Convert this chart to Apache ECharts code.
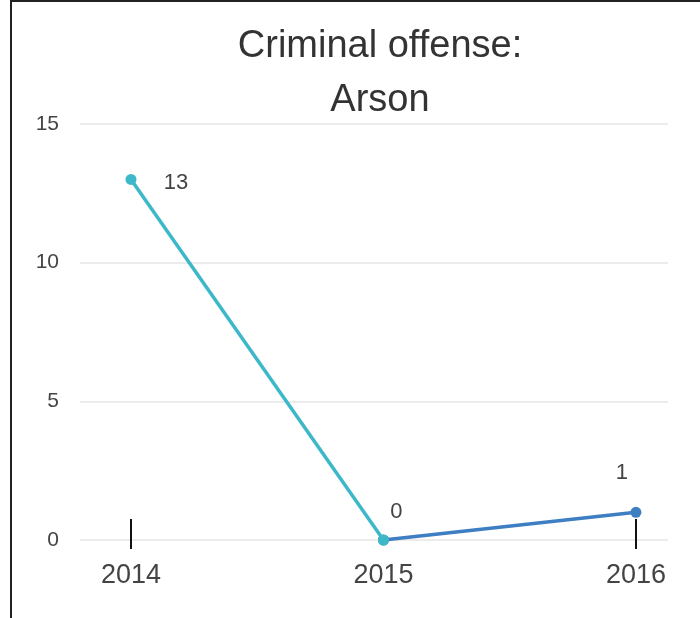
<!DOCTYPE html>
<html>
<head>
<meta charset="utf-8">
<script src="https://cdn.jsdelivr.net/npm/echarts@6/dist/echarts.min.js"></script>
<style>
  html, body { margin: 0; padding: 0; background: #fff; }
  #chart { width: 700px; height: 618px; }
</style>
</head>
<body>
<div id="chart"></div>
<script>
// ---- data ----
const titleLines = ['Criminal offense:', 'Arson'];
const years = [2014, 2015, 2016];
const offenses = [13, 0, 1];
const yTicks = [0, 5, 10, 15];
const tickYears = [2014, 2016];

// ---- style (kept apart from data) ----
const cyan = '#3cb8c9';
const blue = '#3e7ec3';
const labelOffsets = [[45, 3], [13, -28], [-14, -39]];
const font = 'Liberation Sans, Arial, sans-serif';

function point(i, withLabel) {
  return {
    value: [years[i], offenses[i]],
    label: { show: withLabel, offset: labelOffsets[i] }
  };
}
// first segment (2014-2015) cyan, second (2015-2016) blue
const segA = [point(0, true), point(1, true)];
const segB = [point(1, false), point(2, true)];

const lineSeries = (data, color, z) => ({
  type: 'line',
  xAxisIndex: 0,
  data: data,
  symbol: 'circle',
  symbolSize: 11,
  z: z,
  itemStyle: { color: color },
  lineStyle: { width: 3.5, color: color },
  clip: false,
  label: {
    show: true,
    position: 'inside',
    formatter: p => String(p.value[1]),
    fontFamily: font,
    fontSize: 22,
    color: '#444'
  }
});

const chart = echarts.init(document.getElementById('chart'), null, { renderer: 'canvas' });
chart.setOption({
  backgroundColor: '#ffffff',
  animation: false,
  title: {
    text: titleLines.join('\n'),
    left: 380,
    top: 20,
    textAlign: 'center',
    padding: 0,
    textStyle: {
      fontFamily: font,
      fontSize: 38,
      fontWeight: 'normal',
      color: '#333',
      lineHeight: 54
    }
  },
  grid: { left: 80, right: 32, top: 124, bottom: 78, containLabel: false },
  xAxis: [{
    type: 'value',
    min: 2013.798,
    max: 2016.127,
    axisLine: { show: false },
    splitLine: { show: false },
    axisTick: {
      show: true,
      customValues: tickYears,
      length: 9,
      inside: false,
      lineStyle: { color: '#111', width: 2 }
    },
    axisLabel: {
      customValues: years,
      formatter: v => String(v),
      fontFamily: font,
      fontSize: 27,
      color: '#444',
      margin: 22
    }
  }, {
    type: 'value',
    position: 'bottom',
    min: 2013.798,
    max: 2016.127,
    axisLine: { show: false },
    splitLine: { show: false },
    axisLabel: { show: false },
    axisTick: {
      show: true,
      customValues: tickYears,
      length: 21,
      inside: true,
      lineStyle: { color: '#111', width: 2 }
    }
  }],
  yAxis: {
    type: 'value',
    min: yTicks[0],
    max: yTicks[yTicks.length - 1],
    interval: yTicks[1] - yTicks[0],
    axisLine: { show: false },
    axisTick: { show: false },
    splitLine: { show: true, lineStyle: { color: '#ececec', width: 2 } },
    axisLabel: {
      fontFamily: font,
      fontSize: 21,
      color: '#444',
      margin: 21
    }
  },
  series: [
    lineSeries(segB, blue, 2),
    lineSeries(segA, cyan, 3)
  ],
  graphic: [{
    type: 'rect',
    shape: { x: 11, y: 1, width: 760, height: 700 },
    style: { fill: 'none', stroke: '#222', lineWidth: 2 },
    silent: true
  }]
});
</script>
</body>
</html>
